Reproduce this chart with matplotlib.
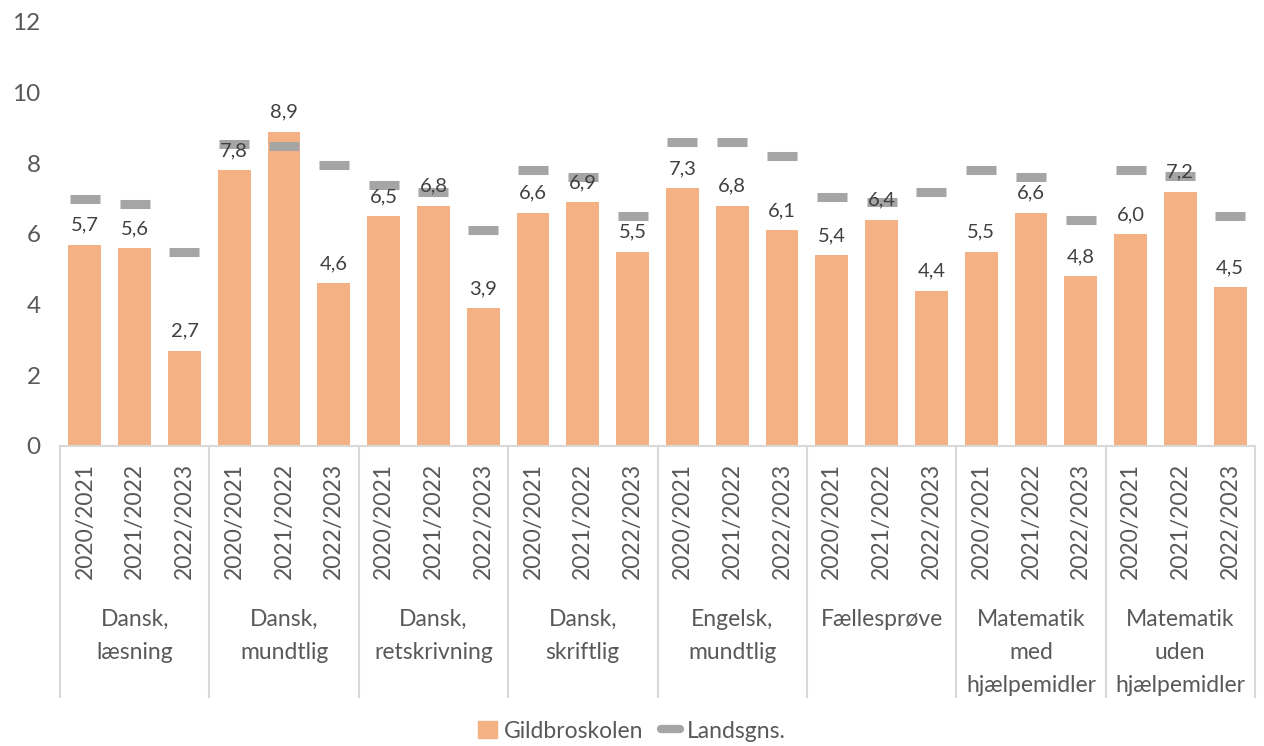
import matplotlib.pyplot as plt
from matplotlib.transforms import blended_transform_factory
from matplotlib.lines import Line2D
from matplotlib.patches import Patch

plt.rcParams['font.family'] = ['Lato', 'DejaVu Sans']

groups = ["Dansk,\nlæsning", "Dansk,\nmundtlig", "Dansk,\nretskrivning", "Dansk,\nskriftlig",
          "Engelsk,\nmundtlig", "Fællesprøve", "Matematik\nmed\nhjælpemidler",
          "Matematik\nuden\nhjælpemidler"]
years = ["2020/2021", "2021/2022", "2022/2023"]

skole = [5.7, 5.6, 2.7,
         7.8, 8.9, 4.6,
         6.5, 6.8, 3.9,
         6.6, 6.9, 5.5,
         7.3, 6.8, 6.1,
         5.4, 6.4, 4.4,
         5.5, 6.6, 4.8,
         6.0, 7.2, 4.5]
lands = [7.0, 6.85, 5.5,
         8.55, 8.5, 7.95,
         7.4, 7.2, 6.1,
         7.8, 7.6, 6.5,
         8.6, 8.6, 8.2,
         7.05, 6.9, 7.2,
         7.8, 7.6, 6.4,
         7.8, 7.65, 6.5]

orange = "#F4B183"
grey = "#A5A5A5"
txt = "#595959"

fig = plt.figure(figsize=(12.64, 7.46), dpi=100)
ax = fig.add_axes([60/1264, 1-446/746, 1195/1264, 424/746])

x = list(range(len(skole)))
bars = ax.bar(x, skole, width=0.66, color=orange, zorder=2)
ax.plot(x, lands, linestyle='none', marker='_', markersize=21.5, markeredgewidth=6.5,
        color=grey, zorder=3)
ax.bar_label(bars, labels=[("%.1f" % v).replace(".", ",") for v in skole],
             padding=8, fontsize=14.5, color="#404040", zorder=4)

ax.set_xlim(-0.5, len(skole) - 0.5)
ax.set_ylim(0, 12)
ax.set_yticks(range(0, 13, 2))
ax.tick_params(axis='y', length=0, labelsize=17.5, labelcolor=txt, pad=14)
ax.set_xticks(x)
ax.set_xticklabels(years * len(groups), rotation=90, fontsize=16.5, color=txt)
ax.tick_params(axis='x', length=0, pad=12)
for s in ['left', 'top', 'right']:
    ax.spines[s].set_visible(False)
ax.spines['bottom'].set_color("#D9D9D9")
ax.spines['bottom'].set_linewidth(1.5)

trans = blended_transform_factory(ax.transData, fig.transFigure)
for i in range(len(groups) + 1):
    xb = i * 3 - 0.5
    ax.add_line(Line2D([xb, xb], [1-446/746, 1-697/746], transform=trans,
                       color="#D9D9D9", lw=1.5, clip_on=False))
for i, g in enumerate(groups):
    ax.text(i * 3 + 1, 1-609/746, g, transform=trans, ha='center', va='top',
            fontsize=16.5, color=txt, linespacing=1.72)

handles = [Patch(color=orange, label="Gildbroskolen"),
           Line2D([], [], color=grey, lw=6, solid_capstyle='round', label="Landsgns.")]
fig.legend(handles=handles, loc='center', bbox_to_anchor=(0.5, 1-731/746), ncol=2,
           frameon=False, fontsize=16.5, labelcolor=txt, handlelength=0.8,
           handleheight=0.8, handletextpad=0.3, columnspacing=0.8)

fig.savefig("out.png", dpi=100)
